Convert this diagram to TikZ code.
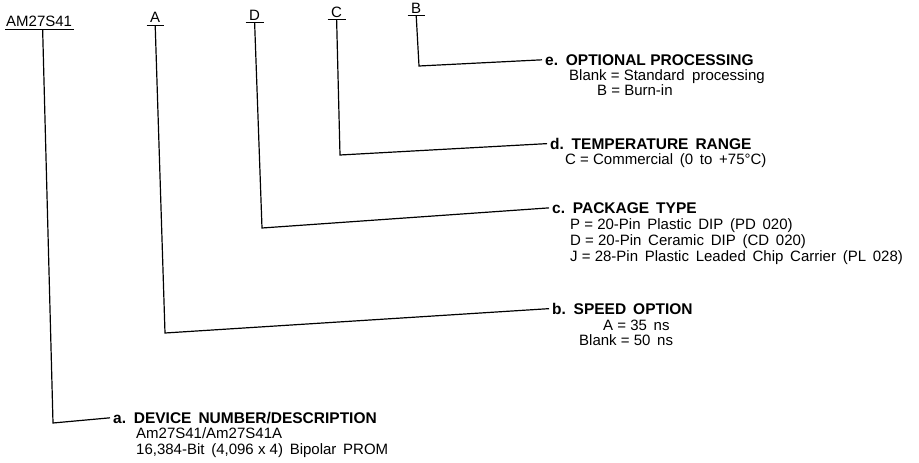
\documentclass[tikz,border=0pt]{standalone}
\usepackage{fontspec}
\setmainfont{Liberation Sans}
\begin{document}
\begin{tikzpicture}[x=1pt,y=-1pt,
  code/.style={anchor=base west, inner sep=0pt, font=\fontsize{15}{15}\selectfont},
  head/.style={anchor=base west, inner sep=0pt, font=\fontsize{15.5}{15}\selectfont\bfseries},
  sub/.style={anchor=base west, inner sep=0pt, font=\fontsize{15}{15}\selectfont},
  lead/.style={line width=1.2pt, shorten >=3pt},
  uline/.style={line width=1.1pt}]
\useasboundingbox (0,0) rectangle (919,463);

% ordering code
\node[code] (pn) at (6,27) {AM27S41};
\node[code] (oA) at (150,23) {A};
\node[code] (oD) at (249,20) {D};
\node[code] (oC) at (331,17) {C};
\node[code] (oB) at (411,13) {B};
\draw[uline] ([xshift=-1pt,yshift=-2.5pt]pn.base west) -- ([xshift=2pt,yshift=-2.5pt]pn.base east);
\foreach \n in {oA,oD,oC,oB}
  \draw[uline] ([xshift=-3.5pt,yshift=-2.5pt]\n.base west) -- ([xshift=3.5pt,yshift=-2.5pt]\n.base east);

% corners
\coordinate (ka) at (53,423);
\coordinate (kb) at (165,333);
\coordinate (kc) at (262,228);
\coordinate (kd) at (340,155);
\coordinate (ke) at (419,66);

% e
\node[head] (he) at (545,65) {e.\hskip0.5em OPTIONAL PROCESSING};
\node[sub] (e1) at (569,80) {Blank = Standard\hskip0.5em processing};
\node[sub] (e2) at (597,95) {B = Burn-in};
% d
\node[head] (hd) at (550,149) {d.\hskip0.5em TEMPERATURE\hskip0.45em RANGE};
\node[sub] (d1) at (565,164) {C = Commercial\hskip0.45em (0\hskip0.45em to\hskip0.45em +75°C)};
% c
\node[head] (hc) at (552,213) {c.\hskip0.5em PACKAGE\hskip0.45em TYPE};
\node[sub] (c1) at (570,229) {P = 20-Pin\hskip0.45em Plastic\hskip0.45em DIP\hskip0.45em (PD\hskip0.45em 020)};
\node[sub] (c2) at (570,245) {D = 20-Pin\hskip0.45em Ceramic\hskip0.45em DIP\hskip0.45em (CD\hskip0.45em 020)};
\node[sub] (c3) at (570,261) {J = 28-Pin\hskip0.45em Plastic\hskip0.45em Leaded\hskip0.45em Chip\hskip0.45em Carrier\hskip0.45em (PL\hskip0.45em 028)};
% b
\node[head] (hb) at (552,314) {b.\hskip0.5em SPEED\hskip0.45em OPTION};
\node[sub] (b1) at (603,330) {A = 35\hskip0.45em ns};
\node[sub] (b2) at (579,345) {Blank = 50\hskip0.45em ns};
% a
\node[head] (ha) at (113,423) {a.\hskip0.5em DEVICE\hskip0.45em NUMBER/DESCRIPTION};
\node[sub] (a1) at (136,438) {Am27S41/Am27S41A};
\node[sub] (a2) at (136,454) {16,384-Bit\hskip0.45em (4,096 x 4)\hskip0.45em Bipolar\hskip0.45em PROM};

% leaders
\draw[lead] ([xshift=3.5pt,yshift=-2.5pt]pn.base) -- (ka) -- (ha.west);
\draw[lead] ([yshift=-2.5pt]oA.base) -- (kb) -- (hb.west);
\draw[lead] ([yshift=-2.5pt]oD.base) -- (kc) -- (hc.west);
\draw[lead] ([yshift=-2.5pt]oC.base) -- (kd) -- (hd.west);
\draw[lead] ([yshift=-2.5pt]oB.base) -- (ke) -- (he.west);
\end{tikzpicture}
\end{document}
